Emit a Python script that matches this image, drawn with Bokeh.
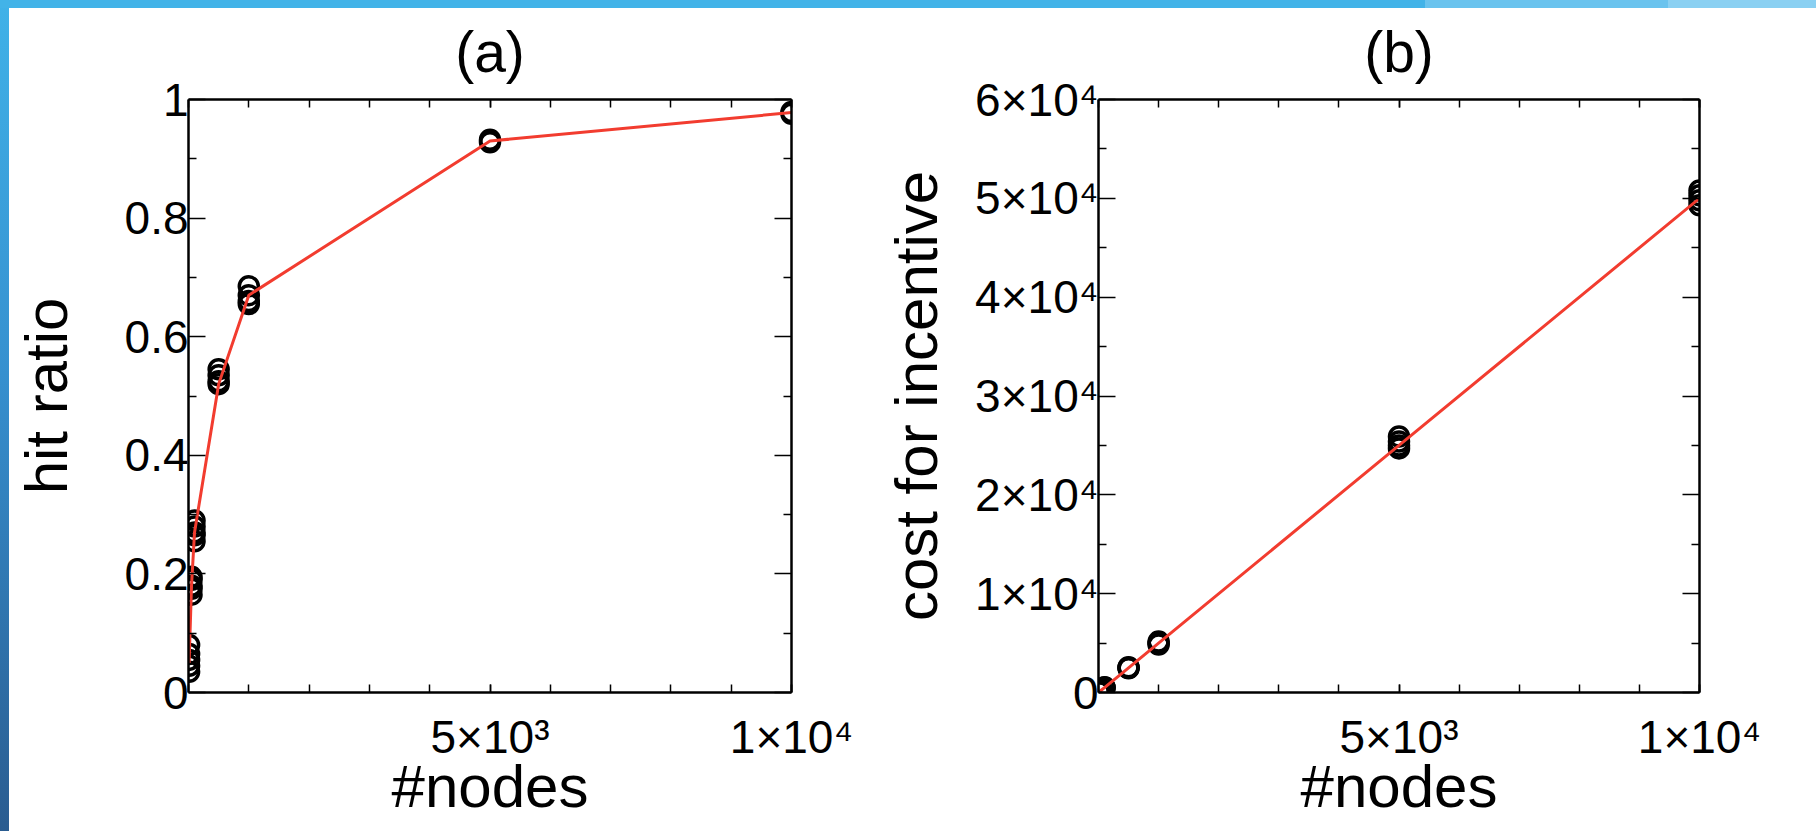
from bokeh.plotting import figure
from bokeh.layouts import row
from bokeh.models import Range1d, LinearAxis, FixedTicker, CustomJSTickFormatter
from bokeh.embed import file_html
from bokeh.resources import INLINE

FONT = "Liberation Sans"

# ---------------- data ----------------
nodes = [10, 50, 100, 500, 1000, 5000, 10000]

# hit ratio, several runs for each network size
hit_10 = [0.035, 0.045, 0.055, 0.065, 0.08]
hit_50 = [0.165, 0.175, 0.18, 0.19, 0.195]
hit_100 = [0.255, 0.265, 0.27, 0.28, 0.29]
hit_500 = [0.52, 0.525, 0.535, 0.545]
hit_1000 = [0.655, 0.66, 0.67, 0.685]
hit_5000 = [0.928, 0.932]
hit_10000 = [0.976, 0.979]
hit_line = [0.05, 0.18, 0.27, 0.52, 0.67, 0.93, 0.978]

# cost for incentive, several runs for each network size
cost_10 = [45, 50, 55]
cost_50 = [240, 250, 260]
cost_100 = [480, 500, 520]
cost_500 = [2450, 2500, 2550]
cost_1000 = [4850, 5000, 5150]
cost_5000 = [24700, 25000, 25400, 25900]
cost_10000 = [49300, 49800, 50300, 50800]
cost_line = [50, 250, 500, 2500, 5000, 25000, 50000]

x_major = [5000, 10000]
x_minor = [0, 1000, 2000, 3000, 4000, 5000, 6000, 7000, 8000, 9000, 10000]
x_labels = {5000: "5×10³", 10000: "1×10⁴"}

hit_major = [0, 0.2, 0.4, 0.6, 0.8, 1.0]
hit_minor = [0.1, 0.3, 0.5, 0.7, 0.9]
hit_labels = {0: "0", 0.2: "0.2", 0.4: "0.4", 0.6: "0.6", 0.8: "0.8", 1.0: "1"}

cost_major = [0, 10000, 20000, 30000, 40000, 50000, 60000]
cost_minor = [5000, 15000, 25000, 35000, 45000, 55000]
cost_labels = {0: "0", 10000: "1×10⁴", 20000: "2×10⁴", 30000: "3×10⁴",
               40000: "4×10⁴", 50000: "5×10⁴", 60000: "6×10⁴"}

hit_runs = [hit_10, hit_50, hit_100, hit_500, hit_1000, hit_5000, hit_10000]
cost_runs = [cost_10, cost_50, cost_100, cost_500, cost_1000, cost_5000, cost_10000]


def flatten(xs, runs):
    px, py = [], []
    for x, vals in zip(xs, runs):
        for v in vals:
            px.append(x)
            py.append(v)
    return px, py


def style_axis(ax, major_in, minor_in):
    ax.axis_line_color = "black"
    ax.axis_line_width = 2.5
    ax.major_tick_in = major_in
    ax.major_tick_out = 0
    ax.minor_tick_in = minor_in
    ax.minor_tick_out = 0
    ax.major_tick_line_color = "black"
    ax.minor_tick_line_color = "black"
    ax.major_tick_line_width = 1.5
    ax.minor_tick_line_width = 1.5
    ax.major_label_text_font = FONT
    ax.major_label_text_font_size = "46px"
    ax.major_label_text_color = "black"
    ax.axis_label_text_font = FONT
    ax.axis_label_text_font_size = "60px"
    ax.axis_label_text_font_style = "normal"
    ax.axis_label_text_color = "black"


def panel(title, ylabel, y_end, ymaj, ymin, ylabels, runs, line_vals,
          width, left, right, ylab_standoff, ytick_standoff):
    p = figure(width=width, height=831,
               x_range=Range1d(0, 10000), y_range=Range1d(0, y_end),
               output_backend="svg", toolbar_location=None,
               min_border_left=left, min_border_right=right,
               min_border_top=99, min_border_bottom=139,
               x_axis_label="#nodes", y_axis_label=ylabel, title=title)
    p.grid.visible = False
    p.outline_line_color = None
    p.background_fill_color = "white"
    p.border_fill_color = None

    p.title.text_font = FONT
    p.title.text_font_size = "57px"
    p.title.text_font_style = "normal"
    p.title.text_color = "black"
    p.title.align = "center"
    p.title.standoff = 31

    xt = FixedTicker(ticks=x_major, minor_ticks=x_minor)
    yt = FixedTicker(ticks=ymaj, minor_ticks=ymin)

    xa = p.xaxis[0]
    xa.ticker = xt
    xa.major_label_overrides = x_labels
    style_axis(xa, 8, 8)
    xa.major_label_standoff = 18
    xa.axis_label_standoff = -13

    ya = p.yaxis[0]
    ya.ticker = yt
    ya.major_label_overrides = ylabels
    style_axis(ya, 17, 8)
    ya.major_label_standoff = ytick_standoff
    ya.axis_label_standoff = ylab_standoff

    blank = CustomJSTickFormatter(code="return ''")
    top = LinearAxis(ticker=xt, formatter=blank)
    style_axis(top, 8, 8)
    top.major_label_text_font_size = "0px"
    top.major_label_standoff = 0
    p.add_layout(top, "above")

    rgt = LinearAxis(ticker=yt, formatter=blank)
    style_axis(rgt, 17, 8)
    rgt.major_label_text_font_size = "0px"
    rgt.major_label_standoff = 0
    p.add_layout(rgt, "right")

    px, py = flatten(nodes, runs)
    p.scatter(px, py, marker="circle", size=19, fill_color=None,
              line_color="black", line_width=3.5)
    p.line(nodes, line_vals, line_color="#f23c2f", line_width=3)
    return p


p1 = panel("(a)", "hit ratio", 1.0, hit_major, hit_minor, hit_labels,
           hit_runs, hit_line, width=880, left=188, right=89,
           ylab_standoff=42, ytick_standoff=0)
p2 = panel("(b)", "cost for incentive", 60000, cost_major, cost_minor,
           cost_labels, cost_runs, cost_line, width=936, left=215, right=117,
           ylab_standoff=22, ytick_standoff=0)

layout = row(p1, p2)

# slide decoration: blue bar along the top and a blue strip at the left edge
layout.styles = {
    "background": (
        "linear-gradient(90deg, #42b3e8 0px, #42b3e8 1425px, #6ac3ee 1425px, "
        "#6ac3ee 1668px, #8ad0f2 1668px) 0 0 / 100% 8px no-repeat, "
        "linear-gradient(180deg, #40b2e8 0%, #3690cf 45%, #2a5c90 100%) "
        "0 0 / 9px 100% no-repeat, #ffffff"
    )
}

open("out.html", "w").write(file_html(layout, INLINE))
